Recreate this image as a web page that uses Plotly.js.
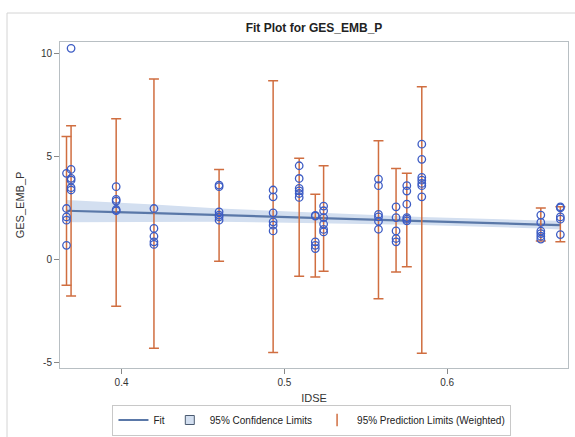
<!DOCTYPE html>
<html>
<head>
<meta charset="utf-8">
<script src="https://cdn.plot.ly/plotly-3.0.1.min.js"></script>
<style>html,body{margin:0;padding:0;background:#fff;}#chart{width:575px;height:437px;}</style>
</head>
<body>
<div id="chart"></div>
<script>
// Observations (IDSE, GES_EMB_P)
var idse = [
  0.3662,0.3662,0.3662,0.3662,0.3662,
  0.369,0.369,0.369,0.369,0.369,0.369,
  0.3967,0.3967,0.3967,0.3967,0.3967,
  0.4199,0.4199,0.4199,0.4199,0.4199,
  0.4599,0.4599,0.4599,0.4599,0.4599,0.4599,
  0.4931,0.4931,0.4931,0.4931,0.4931,0.4931,
  0.5091,0.5091,0.5091,0.5091,0.5091,0.5091,
  0.519,0.519,0.519,0.519,0.519,
  0.5241,0.5241,0.5241,0.5241,0.5241,0.5241,
  0.5578,0.5578,0.5578,0.5578,0.5578,0.5578,
  0.5686,0.5686,0.5686,0.5686,0.5686,
  0.5752,0.5752,0.5752,0.5752,0.5752,0.5752,
  0.5844,0.5844,0.5844,0.5844,0.5844,0.5844,0.5844,
  0.6575,0.6575,0.6575,0.6575,0.6575,0.6575,
  0.6695,0.6695,0.6695,0.6695,0.6695
];
var gesEmbP = [
  4.18,2.47,2.06,1.90,0.68,
  10.26,4.37,3.94,3.85,3.48,3.37,
  3.53,2.91,2.83,2.42,2.36,
  2.47,1.50,1.12,0.85,0.72,
  3.61,3.53,2.31,2.15,2.06,1.90,
  3.37,3.04,2.26,1.82,1.66,1.38,
  4.55,3.93,3.45,3.33,3.20,3.01,
  2.13,2.10,0.85,0.68,0.52,
  2.59,2.36,2.03,1.71,1.45,1.33,
  3.90,3.58,2.18,2.06,1.85,1.46,
  2.55,2.03,1.38,1.01,0.85,
  3.58,3.32,2.68,2.03,1.95,1.87,
  5.60,4.86,3.98,3.85,3.69,3.58,3.04,
  2.15,1.79,1.37,1.25,1.12,0.98,
  2.55,2.50,2.06,1.95,1.20
];

// Distinct IDSE values: fit, confidence limits, prediction limits
var xLevels   = [0.3662,0.369,0.3967,0.4199,0.4599,0.4931,0.5091,0.519,0.5241,0.5578,0.5686,0.5752,0.5844,0.6575,0.6695];
var fitVals   = [2.36,2.35,2.29,2.24,2.14,2.07,2.03,2.01,2.00,1.92,1.89,1.88,1.86,1.69,1.66];
var clUpper   = [2.88,2.87,2.78,2.67,2.47,2.37,2.31,2.28,2.26,2.15,2.11,2.09,2.06,1.89,1.87];
var clLower   = [1.80,1.80,1.81,1.82,1.83,1.79,1.77,1.76,1.76,1.71,1.69,1.68,1.67,1.50,1.45];
var plUpper   = [5.97,6.49,6.84,8.77,4.37,8.68,4.91,3.16,4.55,5.77,4.42,4.18,8.39,2.50,2.55];
var plLower   = [-1.27,-1.79,-2.28,-4.33,-0.10,-4.54,-0.83,-0.86,-0.58,-1.92,-0.62,-0.37,-4.57,0.89,0.85];

var xTickVals = [0.4,0.5,0.6];
var xTickText = ['0.4','0.5','0.6'];
var yTickVals = [-5,0,5,10];
var yTickText = ['-5','0','5','10'];

var blue = '#3d5cc4';
var orange = '#d06e40';
var fitColor = '#5a78a8';
var bandColor = '#d3dff0';

var plMid = xLevels.map(function(_, i){ return (plUpper[i] + plLower[i]) / 2; });
var plHalf = xLevels.map(function(_, i){ return (plUpper[i] - plLower[i]) / 2; });

var traces = [
  {x: xLevels, y: clLower, mode: 'lines', line: {width: 0, color: bandColor}, showlegend: false, hoverinfo: 'skip'},
  {x: xLevels, y: clUpper, mode: 'lines', line: {width: 0, color: bandColor}, fill: 'tonexty', fillcolor: bandColor, showlegend: false, hoverinfo: 'skip'},
  {x: xLevels, y: fitVals, mode: 'lines', name: 'Fit', line: {color: fitColor, width: 2.2}},
  {x: [null], y: [null], mode: 'markers', name: '95% Confidence Limits',
   marker: {symbol: 'square', size: 9, color: bandColor, line: {color: '#4a5a70', width: 1}}},
  {x: xLevels, y: plMid, mode: 'markers', marker: {opacity: 0, size: 1}, showlegend: false,
   error_y: {type: 'data', symmetric: true, array: plHalf, color: orange, thickness: 1.5, width: 5}},
  {x: [null], y: [null], mode: 'markers', name: '95% Prediction Limits (Weighted)',
   marker: {symbol: 'line-ns-open', size: 9, color: orange, line: {color: orange, width: 1.5}}},
  {x: idse, y: gesEmbP, mode: 'markers', showlegend: false,
   marker: {symbol: 'circle-open', size: 7.5, color: blue, line: {width: 1.3, color: blue}}}
];

var fontFam = '"Liberation Sans", Arial, sans-serif';
var layout = {
  width: 575, height: 437,
  margin: {l: 60, r: 7, t: 42, b: 69, autoexpand: false},
  paper_bgcolor: '#fff', plot_bgcolor: '#fff',
  font: {family: fontFam, size: 10, color: '#333'},
  title: {text: '<b>Fit Plot for GES_EMB_P</b>', font: {family: fontFam, size: 12, color: '#222'},
          x: 0.5, xref: 'paper', y: 1 - 28/437, yref: 'container', yanchor: 'middle', automargin: false},
  xaxis: {range: [0.3622, 0.6742], tickvals: xTickVals, ticktext: xTickText, automargin: false,
          showgrid: false, zeroline: false, showline: true, mirror: true, linecolor: '#b8bfc3', linewidth: 1,
          ticks: 'outside', ticklen: 5, tickcolor: '#888', tickfont: {size: 10, color: '#333'},
          title: {text: 'IDSE', font: {size: 11, color: '#333'}, standoff: 8}},
  yaxis: {range: [-5.29, 10.57], tickvals: yTickVals, ticktext: yTickText, automargin: false,
          showgrid: false, zeroline: false, showline: true, mirror: true, linecolor: '#b8bfc3', linewidth: 1,
          ticks: 'outside', ticklen: 5, tickcolor: '#888', tickfont: {size: 10, color: '#333'},
          title: {text: 'GES_EMB_P', font: {size: 11, color: '#333'}, standoff: 14}},
  showlegend: true,
  legend: {orientation: 'h', traceorder: 'normal', x: 0.496, xanchor: 'center', y: 1 - 435.5/437, yref: 'container', yanchor: 'bottom',
           bordercolor: '#c8c8c8', borderwidth: 1, bgcolor: '#fff',
           font: {size: 10, color: '#222'}, itemwidth: 30, tracegroupgap: 0},
  shapes: [{type: 'rect', xref: 'paper', yref: 'paper',
            x0: (7-60)/508, x1: (580-60)/508, y0: (368-445)/326, y1: (368-13)/326,
            line: {color: '#d4d4d4', width: 1}, fillcolor: 'rgba(0,0,0,0)', layer: 'below'}]
};

Plotly.newPlot('chart', traces, layout, {displayModeBar: false, staticPlot: true});
</script>
</body>
</html>
